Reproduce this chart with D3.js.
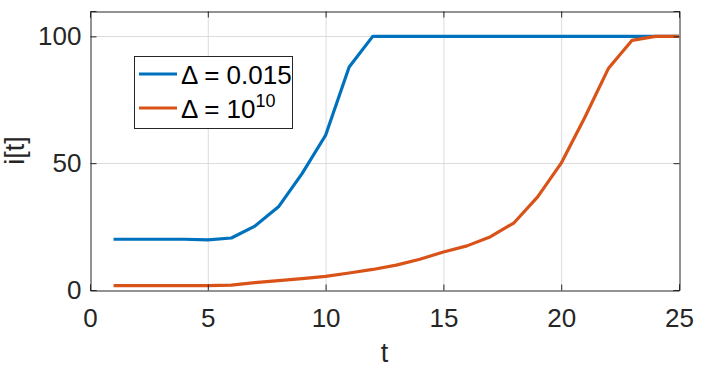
<!DOCTYPE html>
<html><head><meta charset="utf-8">
<script src="https://cdn.jsdelivr.net/npm/d3@7"></script>
<style>body{margin:0;background:#fff}svg{display:block}text{font-family:Arial,"Liberation Sans",Helvetica,sans-serif}</style>
</head><body>
<svg id="c" width="701" height="370"></svg>
<script>
const tValues = d3.range(1, 26);
const seriesBlue = [20,20,20,20,19.8,20.5,25.2,32.8,45.9,61,87.9,100,100,100,100,100,100,100,100,100,100,100,100,100,100];
const seriesOrange = [1.7,1.7,1.7,1.7,1.7,1.9,2.9,3.7,4.5,5.4,6.7,8.1,9.8,12.1,15,17.4,21,26.5,36.7,50,68,87.3,98.4,100,100];
const xTicks = [0,5,10,15,20,25];
const yTicks = [0,50,100];
const legendLabels = ["\u0394 = 0.015", "\u0394 = 10"];
const colors = ["#0072BD", "#D95319"];

const svg = d3.select("#c");
const L = 90, R = 679, T = 11, B = 290;
const x = d3.scaleLinear().domain([0,25]).range([L,R]);
const y = d3.scaleLinear().domain([0,110]).range([B,T]);
const ink = "#262626";

// grid
const g = svg.append("g");
g.selectAll(".gx").data(xTicks.slice(1,-1)).join("line")
  .attr("x1", d=>x(d)+0.5).attr("x2", d=>x(d)+0.5).attr("y1", T).attr("y2", B)
  .attr("stroke", "#dcdcdc").attr("stroke-width", 1);
g.selectAll(".gy").data(yTicks.slice(1)).join("line")
  .attr("y1", d=>Math.round(y(d))+0.5).attr("y2", d=>Math.round(y(d))+0.5).attr("x1", L).attr("x2", R)
  .attr("stroke", "#dcdcdc").attr("stroke-width", 1);

// lines
const line = d3.line().x((d,i)=>x(tValues[i])).y(d=>y(d));
[seriesBlue, seriesOrange].forEach((s,k)=>{
  svg.append("path").datum(s).attr("d", line).attr("fill","none")
    .attr("stroke", colors[k]).attr("stroke-width", 3.2).attr("stroke-linejoin","round");
});

// axes
const ax = d3.axisBottom(x).tickValues(xTicks).tickSize(-6).tickPadding(18);
const gx = svg.append("g").attr("transform", `translate(0,${B+0.5})`).call(ax);
const axT = d3.axisTop(x).tickValues(xTicks).tickSize(-6).tickFormat("");
svg.append("g").attr("transform", `translate(0,${T+0.5})`).call(axT);
const ay = d3.axisLeft(y).tickValues(yTicks).tickSize(-6).tickPadding(9);
svg.append("g").attr("transform", `translate(${L+0.5},0)`).call(ay);
const ayR = d3.axisRight(y).tickValues(yTicks).tickSize(-6).tickFormat("");
svg.append("g").attr("transform", `translate(${R+0.5},0)`).call(ayR);
svg.selectAll(".domain").attr("stroke", ink).attr("stroke-width", 1);
svg.selectAll(".tick line").attr("stroke", ink);
svg.selectAll(".tick text").attr("fill", ink).attr("font-size", 26);
gx.selectAll(".tick text").attr("dy", "0.71em");

// axis labels
svg.append("text").attr("x", (L+R)/2).attr("y", 362).attr("text-anchor","middle")
  .attr("font-size", 27).attr("fill", ink).text("t");
svg.append("text").attr("transform", `translate(24,${(T+B)/2}) rotate(-90)`).attr("text-anchor","middle")
  .attr("font-size", 27).attr("fill", ink).text("i[t]");

// legend
const lg = svg.append("g");
lg.append("rect").attr("x", 134.5).attr("y", 56.5).attr("width", 158).attr("height", 72)
  .attr("fill", "#fff").attr("stroke", ink).attr("stroke-width", 1);
const rows = [74, 108];
legendLabels.forEach((lab,k)=>{
  lg.append("line").attr("x1", 139).attr("x2", 177).attr("y1", rows[k]).attr("y2", rows[k])
    .attr("stroke", colors[k]).attr("stroke-width", 3.2);
  const t = lg.append("text").attr("x", 181).attr("y", rows[k]+10).attr("font-size", 26).attr("fill", "#000").text(lab);
  if (k===1) t.append("tspan").attr("dy", -11).attr("font-size", 18).text("10");
});
</script>
</body></html>
